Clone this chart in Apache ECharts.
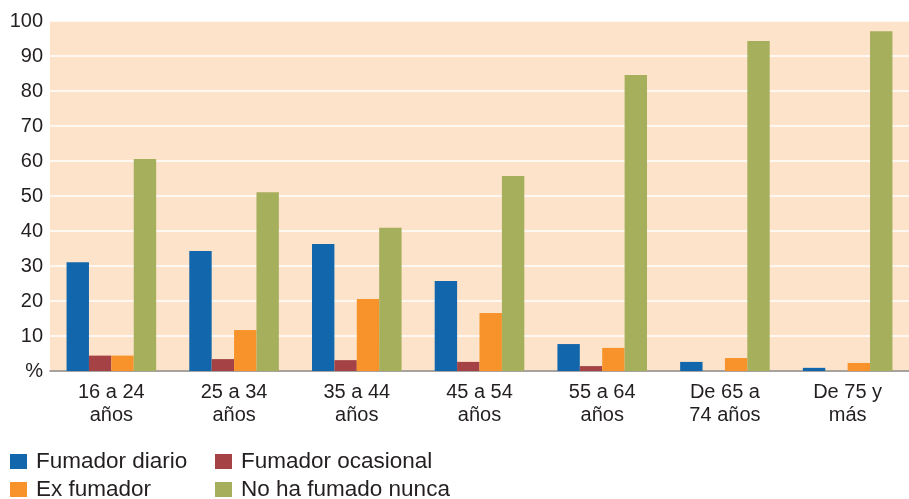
<!DOCTYPE html>
<html><head><meta charset="utf-8">
<script src="https://cdn.jsdelivr.net/npm/echarts@6/dist/echarts.min.js"></script>
<style>html,body{margin:0;padding:0;background:#fff}#c{width:909px;height:499px}</style>
</head><body><div id="c"></div>
<script>
const categories = ['16 a 24\naños','25 a 34\naños','35 a 44\naños','45 a 54\naños','55 a 64\naños','De 65 a\n74 años','De 75 y\nmás'];
const fumadorDiario = [31.1, 34.3, 36.3, 25.7, 7.7, 2.6, 0.9];
const fumadorOcasional = [4.4, 3.4, 3.1, 2.6, 1.4, 0, 0];
const exFumador = [4.4, 11.7, 20.6, 16.6, 6.6, 3.7, 2.3];
const noHaFumado = [60.6, 51.1, 40.9, 55.7, 84.6, 94.3, 97.1];
const names = ['Fumador diario','Fumador ocasional','Ex fumador','No ha fumado nunca'];
const colors = ['#1266ab','#a44246','#f7932a','#a6af5c'];

const font = 'Liberation Sans, Arial, sans-serif';
const chart = echarts.init(document.getElementById('c'));
const mk = (i, d) => ({name: names[i], type: 'bar', data: d, barGap: '0%', barCategoryGap: '27%',
  itemStyle: {color: colors[i]}});
const leg = (left, top, name) => ({left: left, top: top, padding: 0,
  itemWidth: 17, itemHeight: 15, itemGap: 5, icon: 'rect', data: [name],
  textStyle: {fontSize: 22.5, color: '#231f20', fontFamily: font, lineHeight: 25, padding: [0, 0, 0, 4]}});
chart.setOption({
  animation: false,
  textStyle: {fontFamily: font},
  grid: {left: 50, right: -9, top: 21, bottom: 128, show: true, backgroundColor: '#fde3c9', borderWidth: 0},
  legend: [leg(10, 449, names[0]), leg(215, 449, names[1]), leg(10, 477, names[2]), leg(215, 477, names[3])],
  xAxis: {type: 'category', data: categories,
    axisLine: {lineStyle: {color: '#8a8580', width: 1.5}},
    axisTick: {length: 10, lineStyle: {color: '#231f20', width: 1.5}},
    axisLabel: {fontSize: 20, color: '#231f20', lineHeight: 23, margin: 10, interval: 0, fontFamily: font}},
  yAxis: {type: 'value', min: 0, max: 100, interval: 10,
    axisLine: {show: false}, axisTick: {show: false},
    splitLine: {lineStyle: {color: '#ffffff', width: 1.5}},
    axisLabel: {fontSize: 20, color: '#231f20', margin: 7, fontFamily: font,
      formatter: v => v === 0 ? '%' : String(v)}},
  series: [mk(0, fumadorDiario), mk(1, fumadorOcasional), mk(2, exFumador), mk(3, noHaFumado)]
});
</script></body></html>
